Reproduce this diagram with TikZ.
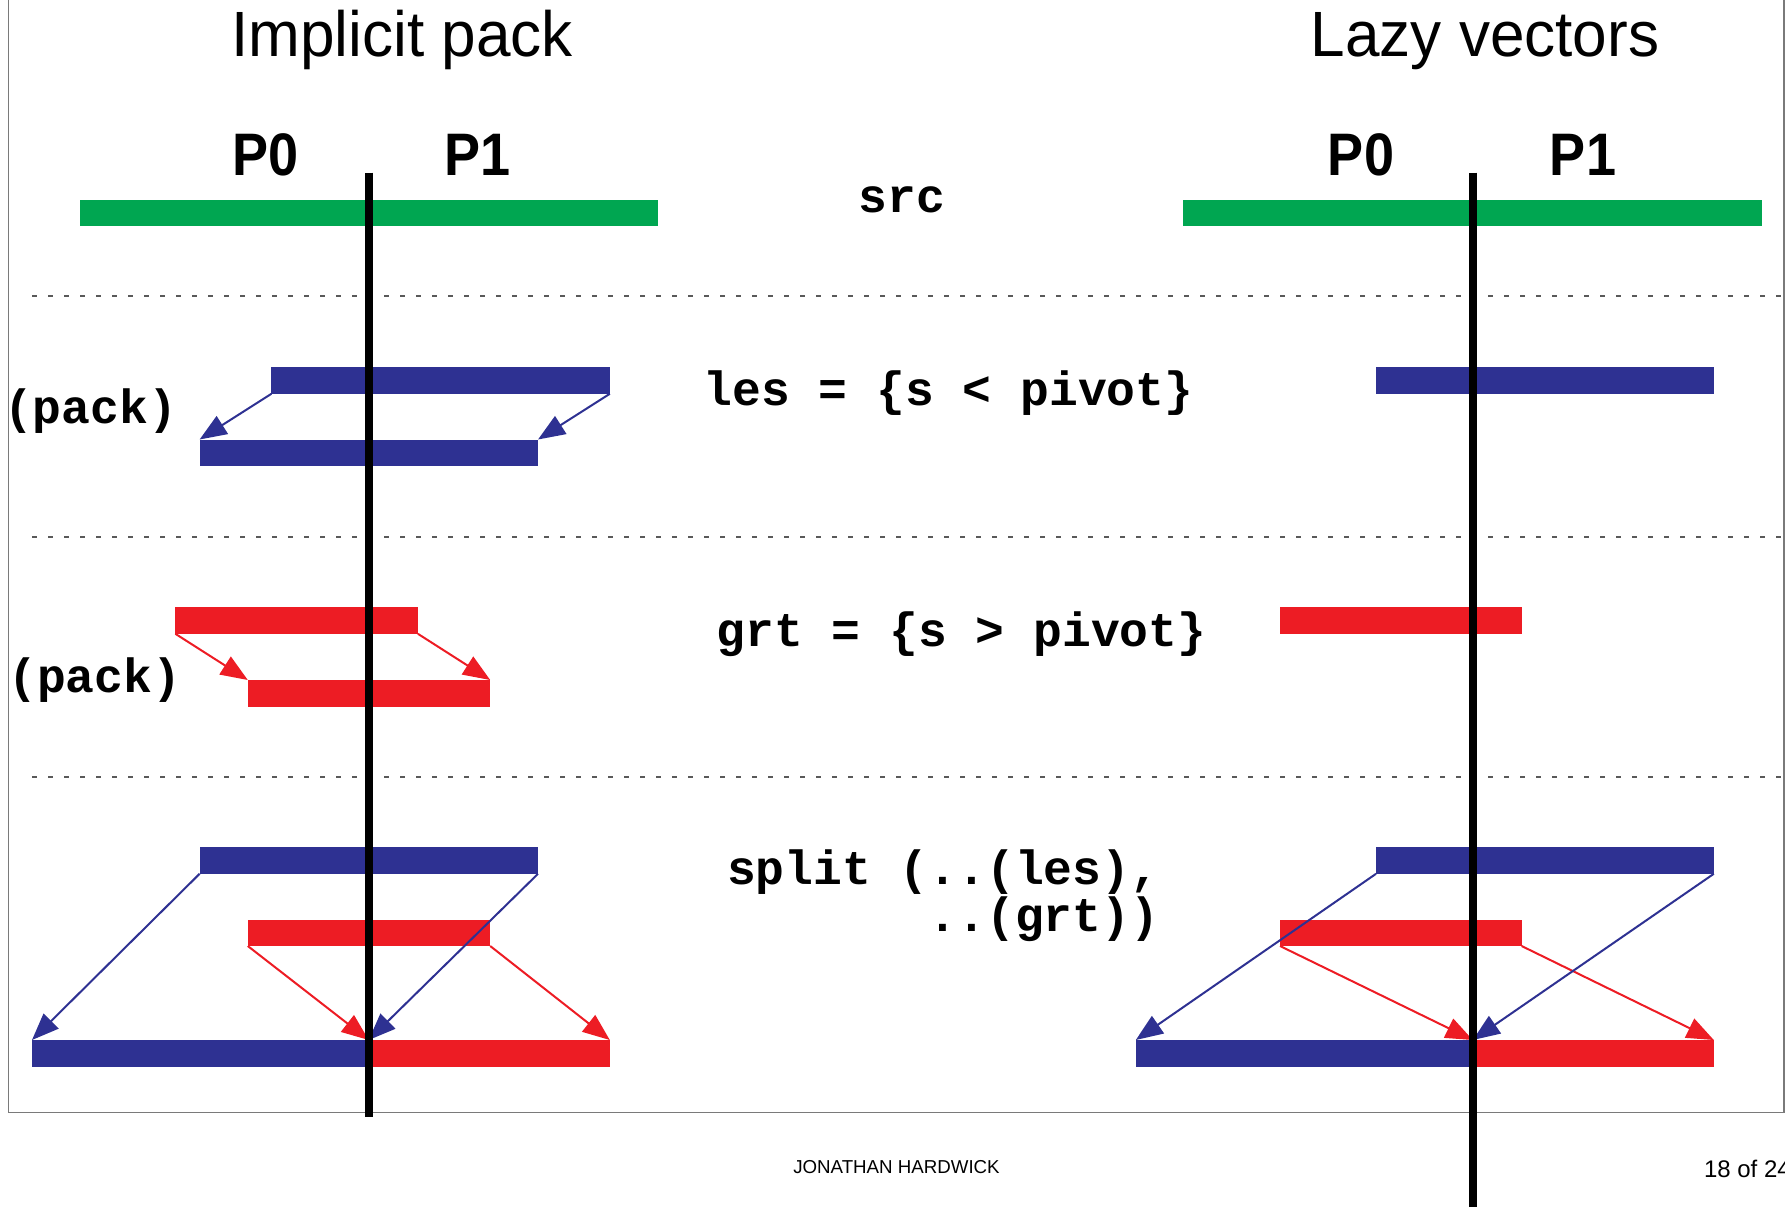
\documentclass[tikz,border=0pt]{standalone}
\usepackage{fontspec}
\setmainfont{Liberation Sans}
\newfontfamily\codefont{Liberation Mono}
\usetikzlibrary{arrows.meta}

\definecolor{srcgreen}{HTML}{00A651}
\definecolor{lesblue}{HTML}{2E3192}
\definecolor{grtred}{HTML}{ED1C24}
\definecolor{framegray}{HTML}{7A7A7A}
\definecolor{rulegray}{HTML}{595959}

\begin{document}
\begin{tikzpicture}[x=1pt,y=-1pt,
  bar/.style={rectangle, inner sep=0pt, outer sep=0pt, draw=none,
              minimum height=26.5pt, anchor=north west},
  srcbar/.style={bar, fill=srcgreen},
  lesbar/.style={bar, fill=lesblue},
  grtbar/.style={bar, fill=grtred},
  movearrow/.style={line width=2pt, -{Triangle[length=27pt,width=21pt]}},
  bluemove/.style={movearrow, draw=lesblue, fill=lesblue},
  redmove/.style={movearrow, draw=grtred, fill=grtred},
  divider/.style={line width=8pt, black},
  separator/.style={draw=rulegray, line width=2pt, dash pattern=on 5pt off 11pt},
  txt/.style={inner sep=0pt, outer sep=0pt},
  titletext/.style={txt, anchor=base, font=\fontsize{64}{72}\selectfont},
  proctext/.style={txt, anchor=base, font=\bfseries\fontsize{60}{70}\selectfont},
  codetext/.style={txt, font=\codefont\bfseries\fontsize{48}{56}\selectfont},
]
\useasboundingbox (0,0) rectangle (1785,1207);

% page frame
\draw[framegray, line width=1.5pt] (8.5,0) -- (8.5,1112.7) -- (1784,1112.7) -- (1784,0);

% row separators
\draw[separator] (32,296) -- (1784,296);
\draw[separator] (32,536.5) -- (1784,536.5);
\draw[separator] (32,776.5) -- (1784,776.5);

% headings
\node[titletext] (titleL) at (402,57) {\scalebox{0.97}[1]{Implicit pack}};
\node[titletext] (titleR) at (1485,57) {\scalebox{0.97}[1]{Lazy vectors}};
\node[proctext] (p0L) at (265.6,175) {\scalebox{0.9}[1]{P0}};
\node[proctext] (p1L) at (477.7,175) {\scalebox{0.9}[1]{P1}};
\node[proctext] (p0R) at (1361,175) {\scalebox{0.9}[1]{P0}};
\node[proctext] (p1R) at (1583,175) {\scalebox{0.9}[1]{P1}};

% code labels
\node[codetext, anchor=base] (srcT) at (901.7,212) {src};
\node[codetext, anchor=base] (lesT) at (948.5,405) {les = \{s < pivot\}};
\node[codetext, anchor=base] (grtT) at (961.5,646) {grt = \{s > pivot\}};
\node[codetext, anchor=base west] (splitT) at (727,884) {split (..(les),};
\node[codetext, anchor=base west] (splitT2) at (727,931.5) {\phantom{split (}..(grt))};
\node[codetext, anchor=base] (packA) at (90.5,423.3) {(pack)};
\node[codetext, anchor=base] (packB) at (94.8,692.7) {(pack)};

% ---- implicit pack ----
\node[srcbar, minimum width=578.5pt] (srcL) at (79.5,199.5) {};
\node[lesbar, minimum width=338.4pt] (lesL) at (271.4,367.3) {};
\node[lesbar, minimum width=338.4pt] (lesLp) at (199.6,439.5) {};
\node[grtbar, minimum width=242.5pt] (grtL) at (175.4,607.3) {};
\node[grtbar, minimum width=242.4pt] (grtLp) at (247.8,680) {};
\node[lesbar, minimum width=338.4pt] (lesLs) at (199.6,847.3) {};
\node[grtbar, minimum width=242.4pt] (grtLs) at (247.8,919.5) {};
\node[lesbar, minimum width=336.7pt] (outLb) at (32,1040) {};
\node[grtbar, minimum width=241.1pt] (outLr) at (368.7,1040) {};

\draw[bluemove] (lesL.south west) -- (lesLp.north west);
\draw[bluemove] (lesL.south east) -- (lesLp.north east);
\draw[redmove] (grtL.south west) -- (grtLp.north west);
\draw[redmove] (grtL.south east) -- (grtLp.north east);
\draw[redmove] (grtLs.south west) -- (outLr.north west);
\draw[redmove] (grtLs.south east) -- (outLr.north east);
\draw[bluemove] (lesLs.south west) -- (outLb.north west);
\draw[bluemove] (lesLs.south east) -- (outLb.north east);

% ---- lazy vectors ----
\node[srcbar, minimum width=579.2pt] (srcR) at (1183.2,199.5) {};
\node[lesbar, minimum width=337.8pt] (lesR) at (1376,367.3) {};
\node[grtbar, minimum width=241.6pt] (grtR) at (1280,607.3) {};
\node[lesbar, minimum width=337.8pt] (lesRs) at (1376,847.3) {};
\node[grtbar, minimum width=241.6pt] (grtRs) at (1280,919.5) {};
\node[lesbar, minimum width=337pt] (outRb) at (1135.8,1040) {};
\node[grtbar, minimum width=241pt] (outRr) at (1472.8,1040) {};

\draw[redmove] (grtRs.south west) -- (outRr.north west);
\draw[redmove] (grtRs.south east) -- (outRr.north east);
\draw[bluemove] (lesRs.south west) -- (outRb.north west);
\draw[bluemove] (lesRs.south east) -- (outRb.north east);

% processor boundaries
\coordinate (cutLtop) at (368.7,172.7);
\coordinate (cutLbot) at (368.7,1116.7);
\coordinate (cutRtop) at (1472.8,172.7);
\coordinate (cutRbot) at (1472.8,1207);
\draw[divider] (cutLtop) -- (cutLbot);
\draw[divider] (cutRtop) -- (cutRbot);

% footer
\node[txt, anchor=base, font=\fontsize{18.7}{22}\selectfont] (author) at (896.5,1173) {JONATHAN HARDWICK};
\node[txt, anchor=base west, font=\fontsize{24}{28}\selectfont] (pageno) at (1704,1177.7) {18 of 24};
\end{tikzpicture}
\end{document}
